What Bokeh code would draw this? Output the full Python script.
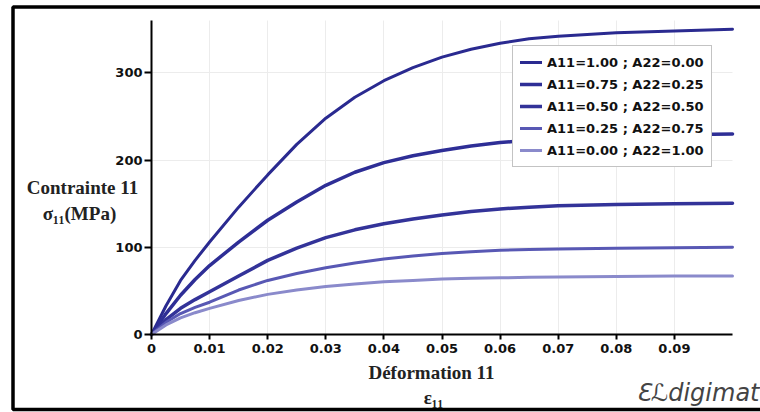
from bokeh.plotting import figure
from bokeh.models import (Legend, LegendItem, Label, FixedTicker, Range1d,
                          LinearAxis, Grid, BoxAnnotation)
from bokeh.embed import file_html
from bokeh.resources import INLINE

# ---- data ----
strain = [0, 0.0025, 0.005, 0.0075, 0.01, 0.015, 0.02, 0.025, 0.03, 0.035,
          0.04, 0.045, 0.05, 0.055, 0.06, 0.065, 0.07, 0.08, 0.09, 0.1]

stress_a100 = [0, 33, 62, 85, 106, 146, 183, 218, 248, 272,
               291, 306, 318, 327, 334, 339, 342, 346, 348, 350]
stress_a075 = [0, 24, 45, 63, 79, 106, 131, 152, 171, 186,
               197, 205, 211, 216, 220, 223, 225.5, 228, 229, 230]
stress_a050 = [0, 17, 30, 40, 49, 67, 85, 99, 111, 120,
               127, 132.5, 137, 141, 144, 146, 147.5, 149, 150, 150.5]
stress_a025 = [0, 14, 24, 31, 37, 51, 62, 70, 76.5, 82,
               86.5, 90, 93, 95, 96.5, 97.5, 98, 99, 99.5, 100]
stress_a000 = [0, 11, 19, 25, 30, 39, 46, 51, 55, 58,
               60.5, 62, 63.5, 64.5, 65, 65.5, 66, 66.5, 67, 67]

series_labels = ["A11=1.00 ; A22=0.00", "A11=0.75 ; A22=0.25",
                 "A11=0.50 ; A22=0.50", "A11=0.25 ; A22=0.75",
                 "A11=0.00 ; A22=1.00"]

x_ticks = [0, 0.01, 0.02, 0.03, 0.04, 0.05, 0.06, 0.07, 0.08, 0.09]
x_tick_labels = ["0", "0.01", "0.02", "0.03", "0.04", "0.05", "0.06", "0.07", "0.08", "0.09"]
y_ticks = [0, 100, 200, 300]
y_tick_labels = ["0", "100", "200", "300"]
x_limits = (0, 0.1)
y_limits = (0, 360)

# ---- layout: the frame fills the canvas; axes sit at the data origin ----
W, H = 760, 412
PLOT_L, PLOT_R, PLOT_T, PLOT_B = 151, 732, 20, 334   # pixel box of the data area
kx = (PLOT_R - PLOT_L) / (x_limits[1] - x_limits[0])
ky = (PLOT_B - PLOT_T) / (y_limits[1] - y_limits[0])
X0 = x_limits[0] - PLOT_L / kx
X1 = X0 + W / kx
Y1 = y_limits[0] + PLOT_B / ky
Y0 = Y1 - H / ky

def px_x(px):
    return X0 + px / kx

def px_y(py):
    return Y1 - py / ky

colors = ["#2a2a90", "#2e2e96", "#333399", "#5858b4", "#8a8acb"]
widths = [3, 3.5, 3.5, 3, 3]

p = figure(width=W, height=H, output_backend="svg", toolbar_location=None,
           x_range=Range1d(X0, X1), y_range=Range1d(Y0, Y1),
           x_axis_location=None, y_axis_location=None, min_border=0)
p.outline_line_color = None
p.background_fill_color = "white"
p.border_fill_color = "white"
p.xgrid.visible = False
p.ygrid.visible = False

# faint grid limited to the data area
gx = Grid(dimension=0, ticker=FixedTicker(ticks=x_ticks), grid_line_color="#ececec")
gy = Grid(dimension=1, ticker=FixedTicker(ticks=y_ticks), grid_line_color="#ececec")
if "cross_bounds" in Grid.properties():
    gx.cross_bounds = y_limits
    gy.cross_bounds = x_limits
p.add_layout(gx)
p.add_layout(gy)

# outer picture frame (right side is cut off in the reference)
p.add_layout(BoxAnnotation(left=px_x(12.5), right=px_x(W + 50), top=px_y(6.5), bottom=px_y(409),
                           fill_color=None, fill_alpha=0, line_color="black", line_alpha=1,
                           line_width=3.5))

xax = LinearAxis(fixed_location=0, bounds=x_limits, ticker=FixedTicker(ticks=x_ticks),
                 major_label_overrides={t: l for t, l in zip(x_ticks, x_tick_labels)})
yax = LinearAxis(fixed_location=0, bounds=y_limits, ticker=FixedTicker(ticks=y_ticks),
                 major_label_overrides={t: l for t, l in zip(y_ticks, y_tick_labels)})
for ax in (xax, yax):
    ax.axis_line_width = 2
    ax.axis_line_color = "black"
    ax.major_tick_line_width = 2
    ax.major_tick_line_color = "black"
    ax.major_tick_in = 0
    ax.minor_tick_line_color = None
    ax.major_label_text_font = "DejaVu Sans"
    ax.major_label_text_font_style = "bold"
    ax.major_label_text_font_size = "13px"
    ax.major_label_text_color = "#111"
xax.major_tick_out = 5
xax.major_label_standoff = 4
yax.major_tick_out = 7
yax.major_label_standoff = 2
p.add_layout(xax, "below")
p.add_layout(yax, "left")

all_series = [stress_a100, stress_a075, stress_a050, stress_a025, stress_a000]
renderers = []
for s, c, w in zip(all_series, colors, widths):
    renderers.append(p.line(strain, s, line_color=c, line_width=w,
                            line_join="round", line_cap="round"))

legend = Legend(items=[LegendItem(label=l, renderers=[r]) for l, r in zip(series_labels, renderers)],
                location=(512, H - 167))
legend.label_text_font = "DejaVu Sans"
legend.label_text_font_style = "bold"
legend.label_text_font_size = "13px"
legend.label_text_color = "#111"
legend.glyph_width = 22
legend.glyph_height = 18
legend.label_height = 18
legend.spacing = 4
legend.padding = 7
legend.margin = 0
legend.label_standoff = 5
legend.border_line_color = "#888888"
legend.border_line_width = 1.5
legend.background_fill_color = "white"
legend.background_fill_alpha = 1
p.add_layout(legend)

serif = dict(text_font="Liberation Serif", text_font_style="bold", text_color="#222",
             text_align="center", text_baseline="middle", text_font_size="19px")
p.add_layout(Label(x=px_x(82), y=px_y(187), text="Contrainte 11", **serif))
p.add_layout(Label(x=px_x(79), y=px_y(213), text="σ₁₁(MPa)", **serif))
p.add_layout(Label(x=px_x(431), y=px_y(372), text="Déformation 11", **serif))
p.add_layout(Label(x=px_x(433), y=px_y(397), text="ε₁₁", **serif))
p.add_layout(Label(x=px_x(759), y=px_y(392), text="Ɛℒdigimat", text_font="DejaVu Sans",
                   text_font_style="italic", text_font_size="24px", text_color="#444",
                   text_align="right", text_baseline="middle"))

open("out.html", "w").write(file_html(p, INLINE))
